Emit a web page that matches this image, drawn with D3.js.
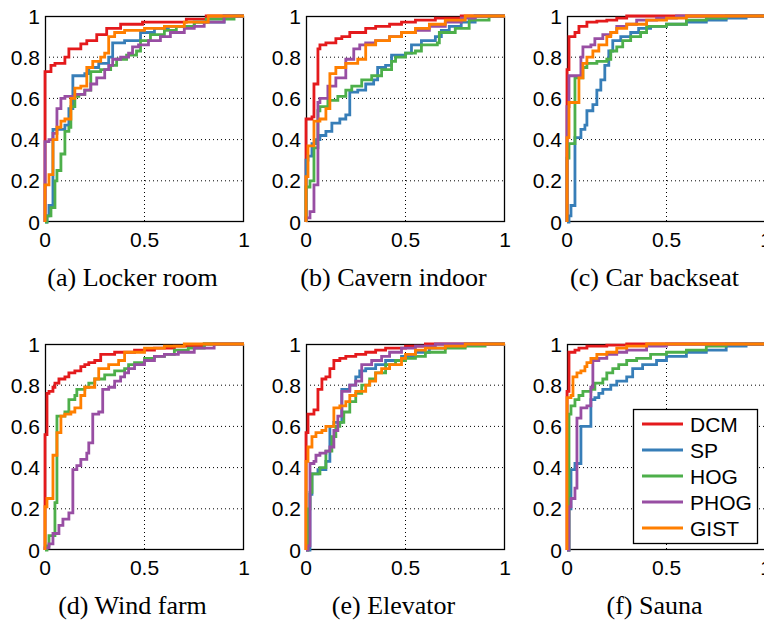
<!DOCTYPE html>
<html>
<head>
<meta charset="utf-8">
<script src="https://cdn.jsdelivr.net/npm/d3@7.9.0/dist/d3.min.js"></script>
<style>
  body { margin: 0; background: #fff; }
  svg { display: block; }
  .tick-label { font-family: "Liberation Sans", Arial, sans-serif; font-size: 21px; fill: #000; }
  .caption { font-family: "Liberation Serif", "Times New Roman", serif; font-size: 26px; fill: #000; }
  .legend-text { font-family: "Liberation Sans", Arial, sans-serif; font-size: 21px; fill: #000; }
</style>
</head>
<body>
<svg id="chart" width="764" height="620"></svg>
<script>
// method names and colours
const methods = ['DCM', 'SP', 'HOG', 'PHOG', 'GIST'];
const colors = ['#e41a1c', '#377eb8', '#4daf4a', '#984ea3', '#ff7f00'];

const xTicks = [0, 0.5, 1];
const yTicks = [0, 0.2, 0.4, 0.6, 0.8, 1];
const tickText = v => String(v);

// each point [fpr, tpr]: at this fpr the curve jumps up to tpr
// (a) Locker room
const lockerDCM = [[0,0.73],[0.03,0.76],[0.05,0.77],[0.1,0.8],[0.12,0.84],[0.18,0.865],[0.21,0.88],[0.26,0.91],[0.31,0.94],[0.38,0.96],[0.49,0.97],[0.71,0.985],[0.81,1]];
const lockerSP = [[0.01,0.03],[0.02,0.08],[0.04,0.45],[0.1,0.47],[0.12,0.55],[0.14,0.71],[0.2,0.72],[0.22,0.75],[0.27,0.77],[0.32,0.8],[0.34,0.87],[0.4,0.88],[0.48,0.92],[0.55,0.94],[0.62,0.95],[0.75,0.97],[0.9,1]];
const lockerHOG = [[0.01,0.03],[0.03,0.07],[0.05,0.2],[0.06,0.25],[0.08,0.33],[0.1,0.44],[0.12,0.46],[0.13,0.56],[0.15,0.61],[0.17,0.62],[0.2,0.64],[0.23,0.73],[0.28,0.74],[0.33,0.76],[0.36,0.79],[0.41,0.81],[0.46,0.83],[0.48,0.88],[0.53,0.91],[0.6,0.93],[0.66,0.95],[0.75,0.97],[0.81,0.985],[0.95,1]];
const lockerPHOG = [[0,0.39],[0.02,0.4],[0.04,0.43],[0.06,0.55],[0.08,0.6],[0.1,0.61],[0.15,0.62],[0.2,0.64],[0.23,0.67],[0.26,0.7],[0.3,0.74],[0.32,0.76],[0.34,0.79],[0.38,0.8],[0.42,0.82],[0.44,0.85],[0.47,0.86],[0.52,0.88],[0.58,0.9],[0.63,0.92],[0.7,0.94],[0.75,0.95],[0.8,0.97],[0.9,1]];
const lockerGIST = [[0,0.18],[0.02,0.23],[0.04,0.4],[0.06,0.46],[0.08,0.49],[0.1,0.5],[0.13,0.6],[0.15,0.65],[0.18,0.66],[0.21,0.75],[0.24,0.78],[0.28,0.8],[0.3,0.82],[0.32,0.9],[0.35,0.92],[0.4,0.93],[0.5,0.94],[0.6,0.95],[0.7,0.97],[0.82,1]];

// (b) Cavern indoor
const cavernDCM = [[0,0.5],[0.03,0.51],[0.04,0.67],[0.06,0.84],[0.07,0.86],[0.1,0.87],[0.15,0.89],[0.18,0.9],[0.22,0.92],[0.3,0.94],[0.35,0.95],[0.42,0.96],[0.48,0.97],[0.55,0.98],[0.65,0.99],[0.78,1]];
const cavernSP = [[0,0.3],[0.01,0.32],[0.03,0.38],[0.05,0.4],[0.07,0.42],[0.1,0.44],[0.13,0.48],[0.17,0.5],[0.2,0.52],[0.22,0.63],[0.26,0.64],[0.3,0.67],[0.34,0.69],[0.36,0.75],[0.4,0.76],[0.43,0.81],[0.5,0.82],[0.53,0.86],[0.58,0.88],[0.65,0.9],[0.68,0.93],[0.72,0.95],[0.78,0.97],[0.85,1]];
const cavernHOG = [[0,0.17],[0.02,0.2],[0.04,0.36],[0.06,0.54],[0.07,0.56],[0.11,0.59],[0.16,0.61],[0.2,0.64],[0.23,0.66],[0.28,0.69],[0.33,0.71],[0.38,0.74],[0.43,0.78],[0.45,0.8],[0.5,0.82],[0.55,0.83],[0.58,0.86],[0.66,0.87],[0.67,0.92],[0.75,0.94],[0.82,0.98],[0.92,1]];
const cavernPHOG = [[0,0.02],[0.02,0.05],[0.04,0.18],[0.06,0.58],[0.07,0.6],[0.11,0.66],[0.15,0.7],[0.2,0.79],[0.24,0.84],[0.27,0.86],[0.3,0.87],[0.35,0.88],[0.42,0.9],[0.48,0.92],[0.55,0.93],[0.62,0.95],[0.7,0.97],[0.78,0.99],[0.85,1]];
const cavernGIST = [[0,0.22],[0.01,0.37],[0.04,0.49],[0.07,0.5],[0.1,0.55],[0.12,0.72],[0.15,0.75],[0.2,0.77],[0.26,0.79],[0.3,0.86],[0.35,0.88],[0.42,0.9],[0.48,0.92],[0.55,0.94],[0.62,0.96],[0.7,0.98],[0.8,1]];

// (c) Car backseat
const carDCM = [[0,0.74],[0.01,0.9],[0.04,0.92],[0.06,0.95],[0.1,0.97],[0.15,0.975],[0.2,0.98],[0.25,0.99],[0.3,1]];
const carSP = [[0.01,0.03],[0.02,0.08],[0.04,0.41],[0.07,0.45],[0.09,0.47],[0.1,0.54],[0.13,0.57],[0.15,0.64],[0.17,0.69],[0.19,0.76],[0.21,0.83],[0.23,0.88],[0.27,0.9],[0.32,0.92],[0.36,0.94],[0.42,0.95],[0.5,0.96],[0.6,0.97],[0.7,0.98],[0.8,0.99],[0.9,1]];
const carHOG = [[0,0.31],[0.01,0.38],[0.04,0.7],[0.08,0.75],[0.1,0.77],[0.15,0.78],[0.2,0.79],[0.22,0.83],[0.25,0.85],[0.28,0.88],[0.32,0.9],[0.37,0.92],[0.4,0.95],[0.5,0.96],[0.6,0.98],[0.7,0.99],[0.8,1]];
const carPHOG = [[0,0.56],[0.01,0.71],[0.07,0.8],[0.08,0.85],[0.12,0.86],[0.14,0.89],[0.18,0.91],[0.22,0.92],[0.25,0.95],[0.3,0.96],[0.35,0.98],[0.45,0.99],[0.55,1]];
const carGIST = [[0,0.41],[0.01,0.58],[0.06,0.7],[0.08,0.77],[0.1,0.8],[0.13,0.83],[0.16,0.86],[0.2,0.9],[0.22,0.92],[0.25,0.94],[0.3,0.96],[0.4,0.98],[0.5,0.99],[0.6,1]];

// (d) Wind farm  (no SP curve visible)
const windDCM = [[0,0.56],[0.01,0.76],[0.02,0.77],[0.04,0.79],[0.05,0.81],[0.07,0.83],[0.1,0.84],[0.12,0.86],[0.15,0.87],[0.18,0.89],[0.2,0.9],[0.22,0.91],[0.25,0.92],[0.28,0.95],[0.35,0.96],[0.45,0.97],[0.55,0.98],[0.65,0.99],[0.8,1]];
const windSP = [];
const windHOG = [[0.01,0.02],[0.02,0.07],[0.05,0.23],[0.06,0.65],[0.1,0.67],[0.12,0.73],[0.15,0.75],[0.16,0.78],[0.2,0.79],[0.22,0.81],[0.25,0.83],[0.3,0.85],[0.35,0.87],[0.4,0.88],[0.42,0.9],[0.45,0.91],[0.5,0.93],[0.55,0.94],[0.6,0.95],[0.65,0.97],[0.72,0.98],[0.8,1]];
const windPHOG = [[0,0.01],[0.02,0.03],[0.04,0.08],[0.07,0.12],[0.09,0.15],[0.12,0.18],[0.14,0.39],[0.16,0.41],[0.18,0.44],[0.21,0.47],[0.22,0.52],[0.24,0.66],[0.27,0.67],[0.29,0.78],[0.32,0.79],[0.35,0.82],[0.38,0.84],[0.4,0.86],[0.42,0.88],[0.45,0.9],[0.5,0.92],[0.55,0.94],[0.6,0.95],[0.67,0.96],[0.75,0.98],[0.85,1]];
const windGIST = [[0,0.21],[0.01,0.25],[0.04,0.46],[0.06,0.57],[0.08,0.65],[0.1,0.66],[0.13,0.67],[0.15,0.69],[0.18,0.75],[0.2,0.79],[0.25,0.83],[0.27,0.88],[0.32,0.9],[0.37,0.92],[0.4,0.96],[0.5,0.98],[0.6,0.99],[0.7,1]];

// (e) Elevator
const elevDCM = [[0,0.57],[0.01,0.66],[0.04,0.68],[0.06,0.78],[0.08,0.83],[0.1,0.84],[0.12,0.88],[0.14,0.92],[0.17,0.93],[0.2,0.94],[0.25,0.95],[0.3,0.96],[0.35,0.97],[0.4,0.98],[0.5,0.99],[0.6,1]];
const elevSP = [[0.02,0.27],[0.03,0.37],[0.06,0.39],[0.1,0.43],[0.12,0.6],[0.14,0.62],[0.18,0.78],[0.22,0.8],[0.25,0.84],[0.27,0.87],[0.3,0.88],[0.35,0.9],[0.4,0.92],[0.48,0.94],[0.55,0.96],[0.62,0.98],[0.7,0.99],[0.8,1]];
const elevHOG = [[0.01,0.2],[0.02,0.28],[0.03,0.37],[0.07,0.4],[0.1,0.48],[0.13,0.55],[0.15,0.6],[0.17,0.62],[0.19,0.67],[0.22,0.72],[0.25,0.76],[0.28,0.8],[0.32,0.83],[0.35,0.86],[0.4,0.9],[0.45,0.92],[0.5,0.93],[0.55,0.94],[0.6,0.96],[0.7,0.98],[0.8,0.99],[0.9,1]];
const elevPHOG = [[0.01,0.02],[0.02,0.42],[0.04,0.43],[0.05,0.46],[0.07,0.47],[0.1,0.48],[0.12,0.5],[0.14,0.58],[0.16,0.65],[0.18,0.77],[0.22,0.8],[0.25,0.82],[0.28,0.9],[0.33,0.92],[0.38,0.94],[0.42,0.96],[0.48,0.98],[0.55,0.99],[0.65,1]];
const elevGIST = [[0,0.43],[0.01,0.5],[0.03,0.55],[0.05,0.57],[0.08,0.58],[0.1,0.6],[0.14,0.69],[0.17,0.7],[0.2,0.72],[0.22,0.75],[0.25,0.77],[0.3,0.8],[0.32,0.82],[0.35,0.86],[0.38,0.88],[0.42,0.9],[0.48,0.93],[0.5,0.95],[0.55,0.97],[0.6,0.98],[0.7,0.99],[0.8,1]];

// (f) Sauna
const saunaDCM = [[0,0.77],[0.01,0.96],[0.04,0.97],[0.06,0.98],[0.1,0.99],[0.2,0.995],[0.3,1]];
const saunaSP = [[0.01,0.2],[0.02,0.39],[0.04,0.42],[0.07,0.6],[0.12,0.73],[0.14,0.74],[0.16,0.76],[0.18,0.78],[0.22,0.8],[0.25,0.82],[0.3,0.84],[0.33,0.88],[0.38,0.9],[0.45,0.92],[0.5,0.94],[0.6,0.96],[0.7,0.97],[0.8,0.99],[0.9,1]];
const saunaHOG = [[0.01,0.66],[0.02,0.7],[0.04,0.73],[0.06,0.75],[0.08,0.77],[0.12,0.78],[0.14,0.81],[0.18,0.83],[0.2,0.86],[0.23,0.88],[0.26,0.9],[0.3,0.92],[0.35,0.93],[0.42,0.95],[0.5,0.96],[0.6,0.97],[0.7,0.99],[0.8,1]];
const saunaPHOG = [[0.01,0.21],[0.02,0.25],[0.04,0.3],[0.05,0.64],[0.07,0.69],[0.1,0.7],[0.12,0.79],[0.13,0.92],[0.16,0.93],[0.2,0.95],[0.25,0.96],[0.3,0.97],[0.4,0.99],[0.5,1]];
const saunaGIST = [[0,0.74],[0.02,0.75],[0.03,0.84],[0.05,0.86],[0.07,0.87],[0.09,0.89],[0.1,0.91],[0.12,0.93],[0.15,0.95],[0.2,0.96],[0.25,0.98],[0.3,0.99],[0.4,1]];

const captions = ['(a) Locker room', '(b) Cavern indoor', '(c) Car backseat', '(d) Wind farm', '(e) Elevator', '(f) Sauna'];

const panelCurves = [
  [lockerDCM, lockerSP, lockerHOG, lockerPHOG, lockerGIST],
  [cavernDCM, cavernSP, cavernHOG, cavernPHOG, cavernGIST],
  [carDCM, carSP, carHOG, carPHOG, carGIST],
  [windDCM, windSP, windHOG, windPHOG, windGIST],
  [elevDCM, elevSP, elevHOG, elevPHOG, elevGIST],
  [saunaDCM, saunaSP, saunaHOG, saunaPHOG, saunaGIST]
];

// layout
const plotW = 199, plotH = 206;
const colLeft = [45, 306, 567];
const rowTop = [16, 344];

const svg = d3.select('#chart');

panelCurves.forEach((curves, i) => {
  const left = colLeft[i % 3];
  const top = rowTop[Math.floor(i / 3)];
  const x = d3.scaleLinear().domain([0, 1]).range([0, plotW]);
  const y = d3.scaleLinear().domain([0, 1]).range([plotH, 0]);

  const g = svg.append('g').attr('transform', `translate(${left},${top})`);

  // white background + dotted grid
  g.append('rect').attr('width', plotW).attr('height', plotH).attr('fill', '#fff');
  g.selectAll('.vgrid').data([0.5]).enter().append('line')
    .attr('x1', d => x(d)).attr('x2', d => x(d)).attr('y1', 0).attr('y2', plotH)
    .attr('stroke', '#000').attr('stroke-width', 1).attr('stroke-dasharray', '1,3');
  g.selectAll('.hgrid').data([0.2, 0.4, 0.6, 0.8]).enter().append('line')
    .attr('x1', 0).attr('x2', plotW).attr('y1', d => y(d)).attr('y2', d => y(d))
    .attr('stroke', '#000').attr('stroke-width', 1).attr('stroke-dasharray', '1,3');

  // box
  g.append('rect').attr('x', 0.5).attr('y', 0.5).attr('width', plotW - 1).attr('height', plotH - 1)
    .attr('fill', 'none').attr('stroke', '#000').attr('stroke-width', 1.3);

  // tick labels
  g.selectAll('.xl').data(xTicks).enter().append('text')
    .attr('class', 'tick-label').attr('x', d => x(d)).attr('y', plotH + 25)
    .attr('text-anchor', 'middle').text(tickText);
  g.selectAll('.yl').data(yTicks).enter().append('text')
    .attr('class', 'tick-label').attr('x', -5).attr('y', d => y(d)).attr('dy', '0.36em')
    .attr('text-anchor', 'end').text(tickText);

  // curves
  const line = d3.line().x(d => x(d[0])).y(d => y(d[1])).curve(d3.curveStepAfter);
  curves.forEach((pts, k) => {
    if (!pts.length) return;
    const full = [[0, 0]].concat(pts, [[1, 1]]);
    g.append('path').attr('d', line(full))
      .attr('fill', 'none').attr('stroke', colors[k]).attr('stroke-width', 2.8)
      .attr('stroke-linejoin', 'miter');
  });

  // caption
  svg.append('text').attr('class', 'caption')
    .attr('x', left + plotW / 2 - 12).attr('y', top + plotH + 64)
    .attr('text-anchor', 'middle').text(captions[i]);
});

// legend inside (f)
const legend = svg.append('g').attr('transform', 'translate(633,409)');
legend.append('rect').attr('x', 0.5).attr('y', 0.5).attr('width', 124).attr('height', 134)
  .attr('fill', '#fff').attr('stroke', '#000').attr('stroke-width', 1.3);
methods.forEach((m, k) => {
  const ly = 15 + k * 26;
  legend.append('line').attr('x1', 9).attr('x2', 50).attr('y1', ly).attr('y2', ly)
    .attr('stroke', colors[k]).attr('stroke-width', 2.8);
  legend.append('text').attr('class', 'legend-text').attr('x', 57).attr('y', ly).attr('dy', '0.36em').text(m);
});
</script>
</body>
</html>
